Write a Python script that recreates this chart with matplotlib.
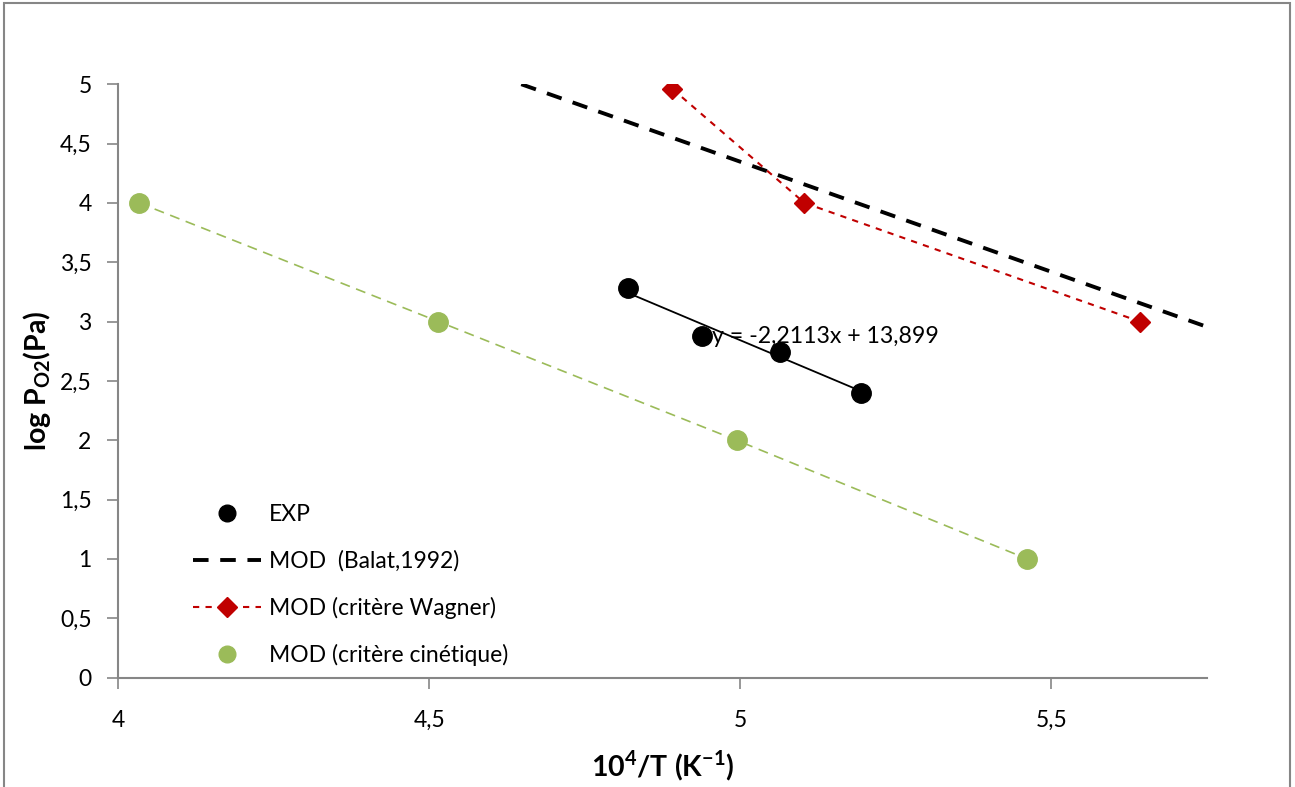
import matplotlib
matplotlib.use("Agg")
import matplotlib.pyplot as plt
from matplotlib.lines import Line2D
from matplotlib.patches import Rectangle
from matplotlib.ticker import FuncFormatter, MultipleLocator

plt.rcParams["font.family"] = ["Lato", "DejaVu Sans"]
plt.rcParams["mathtext.fontset"] = "custom"
plt.rcParams["mathtext.rm"] = "Lato"
plt.rcParams["mathtext.bf"] = "Lato:weight=bold"

# experimental points and their linear fit
exp_x = [4.820, 4.939, 5.063, 5.194]
exp_y = [3.28, 2.88, 2.74, 2.40]
fit_slope = -2.2113
fit_intercept = 13.899

# model curves
balat_x = [4.648, 5.75]
balat_y = [5.0, 2.955]
wagner_x = [4.891, 5.103, 5.642]
wagner_y = [4.96, 4.0, 3.0]
cin_x = [4.034, 4.515, 4.994, 5.461]
cin_y = [4.0, 3.0, 2.0, 1.0]

legend_labels = ["EXP", "MOD  (Balat,1992)", "MOD (critère Wagner)", "MOD (critère cinétique)"]

RED = "#C00000"
GREEN = "#9BBB59"
GREY = "#868686"


def comma(v, pos):
    return f"{v:g}".replace(".", ",")


fig = plt.figure(figsize=(12.95, 7.87), dpi=100)
ax = fig.add_axes([0.0911, 0.139, 0.841, 0.754])

# figure frame
fig.patches.append(Rectangle((0.003, -0.05), 0.993, 1.046, transform=fig.transFigure,
                             fill=False, edgecolor=GREY, linewidth=1.5))

ax.plot(exp_x, exp_y, "o", color="black", markersize=14, zorder=5)
fit_x = [exp_x[0], exp_x[-1]]
fit_y = [fit_slope * v + fit_intercept for v in fit_x]
ax.plot(fit_x, fit_y, "-", color="black", linewidth=1.3, zorder=4)
ax.text(4.955, 2.87, "y = -2,2113x + 13,899", fontsize=16.7, va="center", ha="left", zorder=6)

ax.plot(balat_x, balat_y, color="black", linewidth=2.8, dashes=(4, 3))
ax.plot(wagner_x, wagner_y, color=RED, linewidth=1.5, dashes=(3, 3),
        marker="D", markersize=10.5)
ax.plot(cin_x, cin_y, color=GREEN, linewidth=1.2, dashes=(6, 4),
        marker="o", markersize=14)

ax.set_xlim(4, 5.75)
ax.set_ylim(0, 5)
ax.xaxis.set_major_locator(MultipleLocator(0.5))
ax.yaxis.set_major_locator(MultipleLocator(0.5))
ax.xaxis.set_major_formatter(FuncFormatter(comma))
ax.yaxis.set_major_formatter(FuncFormatter(comma))

for side in ("top", "right"):
    ax.spines[side].set_visible(False)
for side in ("left", "bottom"):
    ax.spines[side].set_color(GREY)
    ax.spines[side].set_linewidth(1.5)
ax.tick_params(axis="both", colors=GREY, length=8, width=1.2, labelcolor="black",
               labelsize=16.5)
ax.tick_params(axis="x", pad=15)
ax.tick_params(axis="y", pad=11)

ax.set_xlabel("10$^{\\mathbf{4}}$/T (K$^{\\mathbf{-1}}$)", fontsize=20.5, fontweight="bold", labelpad=13)
ax.set_ylabel("log P$_{\\mathbf{O2}}$(Pa)", fontsize=20.5, fontweight="bold", labelpad=5)

handles = [
    Line2D([], [], ls="none", marker="o", color="black", markersize=12),
    Line2D([], [], color="black", linewidth=2.8, dashes=(4, 3)),
    Line2D([], [], color=RED, linewidth=1.5, dashes=(3, 3), marker="D", markersize=10.5),
    Line2D([], [], ls="none", marker="o", color=GREEN, markersize=12),
]
ax.legend(handles, legend_labels, loc="lower left", bbox_to_anchor=(0.058, 0.0),
          frameon=False, fontsize=16.5, handlelength=3.0, handletextpad=0.35,
          labelspacing=1.1, borderaxespad=0.1)

fig.savefig("out.png", dpi=100)
